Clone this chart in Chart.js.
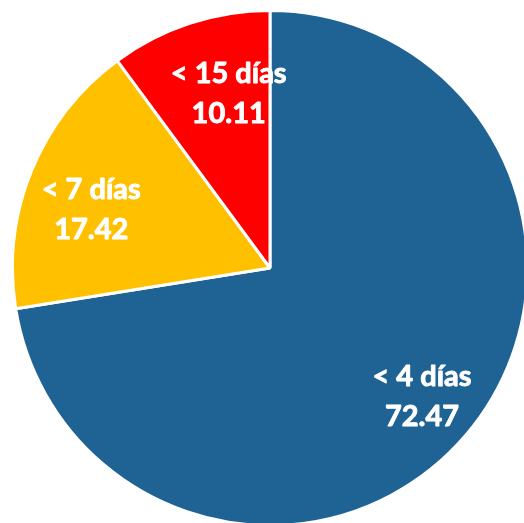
<!DOCTYPE html>
<html>
<head>
<meta charset="utf-8">
<script src="https://cdn.jsdelivr.net/npm/chart.js@4.4.1/dist/chart.umd.min.js"></script>
<style>
  html, body { margin: 0; padding: 0; background: #fff; overflow: hidden; }
  #wrap { position: absolute; left: 11px; top: 9px; width: 518px; height: 518px; }
</style>
</head>
<body>
<div id="wrap"><canvas id="pie" width="518" height="518"></canvas></div>
<script>
const categories = ['< 4 días', '< 7 días', '< 15 días'];
const shares = [72.47, 17.42, 10.11];
const sliceColors = ['#1F6395', '#FFC000', '#FF0000'];

// small per-slice nudges for the value labels (px)
const labelNudge = [[5, 3], [0, 14], [19, 8]];

const sliceLabels = {
  id: 'sliceLabels',
  afterDatasetsDraw(chart) {
    const ctx = chart.ctx;
    const meta = chart.getDatasetMeta(0);
    ctx.save();
    ctx.fillStyle = '#fff';
    ctx.strokeStyle = '#fff';
    ctx.lineWidth = 0.9;
    ctx.lineJoin = 'round';
    ctx.font = 'bold 29px Lato, sans-serif';
    ctx.textAlign = 'center';
    ctx.textBaseline = 'alphabetic';
    meta.data.forEach((arc, i) => {
      const p = arc.getProps(['x', 'y', 'startAngle', 'endAngle', 'outerRadius'], true);
      const mid = (p.startAngle + p.endAngle) / 2;
      const r = p.outerRadius * 0.75;
      const x = p.x + Math.cos(mid) * r + labelNudge[i][0];
      const y = p.y + Math.sin(mid) * r + labelNudge[i][1];
      const lines = [[categories[i], y - 10], [shares[i].toFixed(2), y + 30]];
      lines.forEach(([txt, ty]) => {
        ctx.strokeText(txt, x, ty);
        ctx.fillText(txt, x, ty);
      });
    });
    ctx.restore();
  }
};

new Chart(document.getElementById('pie').getContext('2d'), {
  type: 'pie',
  data: {
    labels: categories,
    datasets: [{
      data: shares,
      backgroundColor: sliceColors,
      borderColor: '#fff',
      borderWidth: 3
    }]
  },
  options: {
    responsive: false,
    animation: false,
    layout: { padding: 0 },
    plugins: {
      legend: { display: false },
      tooltip: { enabled: false }
    }
  },
  plugins: [sliceLabels]
});
</script>
</body>
</html>
